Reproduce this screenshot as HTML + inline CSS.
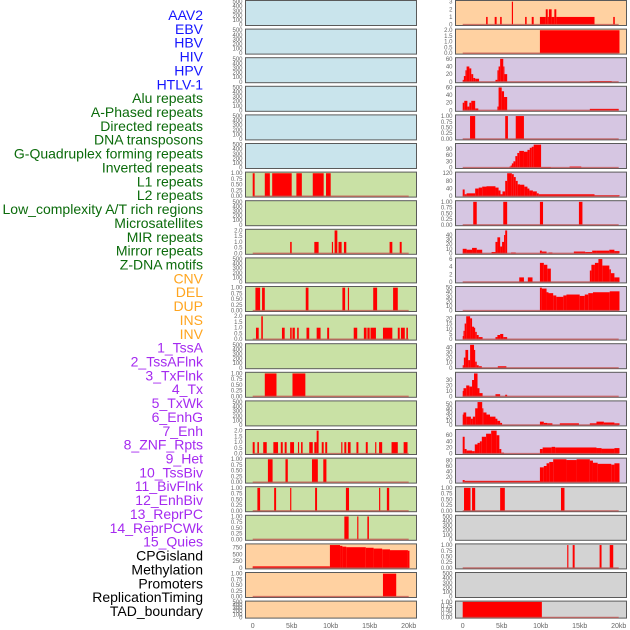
<!DOCTYPE html>
<html><head><meta charset="utf-8">
<style>
html,body{margin:0;padding:0;background:#fff;}
svg{display:block;}
text{font-family:"Liberation Sans",sans-serif;}
</style></head>
<body>
<svg id="chart" width="630" height="630" viewBox="0 0 630 630" xmlns="http://www.w3.org/2000/svg">
<g id="labels"></g>
<g id="panels"></g>
<g id="xaxes"></g>
</svg>
<script>
const trackLabels = ["AAV2","EBV","HBV","HIV","HPV","HTLV-1","Alu repeats","A-Phased repeats","Directed repeats","DNA transposons","G-Quadruplex forming repeats","Inverted repeats","L1 repeats","L2 repeats","Low_complexity A/T rich regions","Microsatellites","MIR repeats","Mirror repeats","Z-DNA motifs","CNV","DEL","DUP","INS","INV","1_TssA","2_TssAFlnk","3_TxFlnk","4_Tx","5_TxWk","6_EnhG","7_Enh","8_ZNF_Rpts","9_Het","10_TssBiv","11_BivFlnk","12_EnhBiv","13_ReprPC","14_ReprPCWk","15_Quies","CPGisland","Methylation","Promoters","ReplicationTiming","TAD_boundary"];
const labelColors = ["#1515ff","#1515ff","#1515ff","#1515ff","#1515ff","#1515ff","#0b6b0b","#0b6b0b","#0b6b0b","#0b6b0b","#0b6b0b","#0b6b0b","#0b6b0b","#0b6b0b","#0b6b0b","#0b6b0b","#0b6b0b","#0b6b0b","#0b6b0b","#ffa51f","#ffa51f","#ffa51f","#ffa51f","#ffa51f","#a52af0","#a52af0","#a52af0","#a52af0","#a52af0","#a52af0","#a52af0","#a52af0","#a52af0","#a52af0","#a52af0","#a52af0","#a52af0","#a52af0","#a52af0","#000","#000","#000","#000","#000"];
const xTickValues = [0,5,10,15,20];
const xTickLabels = ["0","5kb","10kb","15kb","20kb"];

const T01 = ["0.00","0.25","0.50","0.75","1.00"];
const T2 = ["0.0","0.5","1.0","1.5","2.0"];
const TE = ["0","100","200","300","400","500"];

// Left column backgrounds (rows 0..21)
const leftBg = ["b","b","b","b","b","b","g","g","g","g","g","g","g","g","g","g","g","g","g","o","o","o"];
const rightBg = ["o","o","p","p","p","p","p","p","p","p","p","p","p","p","p","p","p","y","y","y","y","y"];
const leftTicks = [TE,TE,TE,TE,TE,TE,T01,TE,T2,TE,T01,T2,TE,T01,TE,T2,T01,T01,T01,["0","250","500","750"],T01,TE];
const rightTicks = [["0","1","2","3"],T2,["0","20","40","60"],["0","20","40","60"],T01,["0","30","60","90"],["0","40","80","120"],T01,["0","10","20","30","40"],["0","2","4","6"],["0","10","20","30","40","50"],["0","5","10","15","20"],["0","10","20","30","40"],["0","10","20","30"],["0","10","20","30","40","50"],["0","20","40","60"],["0","20","40","60","80"],T01,TE,T01,TE,T01];

// segments: [startKb, endKb, value]
const L0=[],L1=[],L2=[],L3=[],L4=[],L5=[],L7=[],L9=[],L12=[],L14=[],L21=[];
const L6=[[0,0.25,1],[1.55,2.2,1],[2.5,5.0,1],[5.6,6.3,1],[7.7,9.1,1],[9.4,10.0,1]];
const L8=[[4.8,5.0,1],[7.9,8.45,1],[10.15,10.3,1],[10.5,10.85,2],[11.0,11.4,1],[11.7,12.0,1],[17.55,17.9,1],[18.85,19.1,1]];
const L10=[[0.35,0.95,1],[1.2,1.55,1],[6.8,7.15,1],[11.5,11.85,1],[12.2,12.35,1],[15.45,15.95,1],[18.0,18.6,1]];
const L11=[[0.42,0.77,1],[1.1,1.3,2],[3.75,4.1,1],[4.8,5.0,1],[5.1,5.4,1],[5.7,5.9,1],[6.9,7.25,1],[8.2,8.7,1],[9.55,9.8,1],[12.95,13.4,1],[14.25,14.6,1],[14.7,15.0,1],[15.1,15.8,1],[16.7,17.9,1],[18.6,18.85,1],[19.0,19.5,1],[19.7,19.9,1]];
const L13=[[1.55,3.05,1],[5.1,6.75,1]];
const L15=[[0,0.25,1],[0.6,0.8,1],[1.35,1.8,1],[2.65,3.25,1],[3.6,3.85,1],[4.1,4.35,1],[4.8,5.3,1],[5.8,5.95,1],[6.2,6.4,1],[7.25,7.7,1],[7.9,8.2,1],[8.2,8.45,2],[8.85,9.1,1],[9.3,9.55,1],[11.35,11.5,1],[11.75,12.0,1],[12.2,12.55,1],[13.3,13.55,1],[14.5,14.75,1],[15.7,15.85,1],[16.2,16.6,1],[17.8,18.6,1],[19.35,19.85,1]];
const L16=[[1.95,2.55,1],[4.2,4.5,1],[7.6,8.35,1],[9.05,9.45,1]];
const L17=[[0.6,0.95,1],[2.75,3.0,1],[4.8,4.95,1],[8.0,8.25,1],[11.95,12.35,1],[16.2,16.35,1],[17.2,17.5,1]];
const L18=[[11.75,12.3,1],[13.4,13.55,1],[14.7,14.9,1]];
const L19=[[0,9.9,60],[9.9,11.2,850],[11.2,11.5,820],[11.5,12.0,790],[12.0,14.5,770],[14.5,15.5,750],[15.5,16.6,720],[16.6,17.6,690],[17.6,19.9,660],[19.9,20.1,640]];
const L20=[[16.7,18.4,1]];

const R0=[[3.0,3.2,1],[4.1,4.35,1],[4.8,5.0,1],[6.3,6.45,3],[8.0,8.2,1],[8.85,9.1,1],[9.9,10.65,1],[10.65,10.9,2],[10.9,11.05,1],[11.05,11.4,2],[11.4,11.75,1],[11.75,12.0,2],[12.0,16.9,1],[19.3,19.5,1]];
const R1=[[9.9,20.1,2]];
const R2=[[0,0.15,5],[0.15,0.35,15],[0.35,0.5,30],[0.5,0.85,40],[0.85,1.1,35],[1.1,1.35,20],[1.35,1.6,10],[1.6,2.1,8],[4.2,4.45,5],[4.45,4.6,30],[4.6,4.8,40],[4.8,5.2,60],[5.2,5.35,40],[5.35,5.7,20],[16.3,19.1,2]];
const R3=[[0,0.2,20],[0.2,0.6,25],[0.6,0.85,10],[0.85,1.1,20],[1.1,1.6,25],[1.6,2.0,5],[4.45,4.6,10],[4.6,5.0,60],[5.0,5.3,50],[5.3,5.7,35],[16.3,20.0,4]];
const R4=[[0.94,1.6,1],[5.45,5.8,1],[6.8,7.85,1]];
const R5=[[6.0,6.15,5],[6.15,6.3,10],[6.3,6.5,20],[6.5,6.75,30],[6.75,7.0,55],[7.0,7.25,70],[7.25,7.85,80],[7.85,8.3,76],[8.3,8.6,85],[8.6,8.85,95],[8.85,9.1,100],[9.1,10.05,110],[10.05,11.3,3],[13.7,15.2,5]];
const R6=[[0,0.25,35],[0.25,0.5,10],[0.5,1.6,15],[1.6,2.05,40],[2.05,2.5,45],[2.5,3.05,50],[3.05,4.2,52],[4.2,4.6,45],[4.6,4.85,30],[4.85,5.1,10],[5.1,5.45,25],[5.45,5.7,80],[5.7,6.3,120],[6.3,6.55,115],[6.55,6.8,100],[6.8,7.05,80],[7.05,7.35,62],[7.35,7.9,60],[7.9,8.3,50],[8.3,8.55,40],[8.55,9.0,30],[9.0,9.5,25],[9.5,9.75,15],[9.75,16.9,10],[16.9,20.1,5]];
const R7=[[1.35,1.8,1],[5.2,5.7,1],[9.9,10.3,1],[14.9,15.35,1]];
const R8=[[0,0.5,10],[0.5,1.2,8],[1.2,1.8,12],[1.8,2.5,8],[3.7,4.2,3],[4.2,4.45,25],[4.45,4.8,35],[4.8,5.05,15],[5.05,5.3,25],[5.3,5.45,40],[5.45,5.7,50],[6.2,6.8,2],[9.9,10.15,6],[10.15,10.75,4],[11.0,11.5,2],[14.25,15.7,4],[15.7,16.6,3],[16.6,17.1,6],[17.1,18.8,6],[18.8,19.45,8],[19.45,20.1,5]];
const R9=[[7.25,7.85,1.2],[8.35,8.95,1.2],[9.9,10.4,5],[10.4,10.85,4.5],[10.85,11.3,3.5],[16.3,16.5,3],[16.5,16.95,4.5],[16.95,17.4,5],[17.4,17.9,6],[17.9,18.8,4.3],[18.8,19.0,3.3],[19.0,19.45,2.3],[19.45,20.1,1.2]];
const R10=[[9.9,10.15,50],[10.15,10.75,48],[10.75,11.0,40],[11.0,11.6,38],[11.6,12.0,33],[12.0,12.9,30],[12.9,13.3,33],[13.3,15.0,35],[15.0,15.65,32],[15.65,16.1,35],[16.1,16.7,38],[16.7,18.85,40],[18.85,20.1,42]];
const R11=[[0,0.1,3],[0.1,0.25,8],[0.25,0.45,15],[0.45,0.95,22],[0.95,1.2,20],[1.2,1.45,12],[1.45,1.6,11],[1.6,1.8,7],[1.8,2.05,4],[2.05,2.55,2],[4.2,4.45,2],[4.45,4.8,4],[4.8,5.2,5],[5.2,5.7,2]];
const R12=[[0,0.15,5],[0.15,0.35,20],[0.35,0.7,35],[0.7,0.95,15],[0.95,1.45,45],[1.45,1.6,35],[1.6,1.8,12],[1.8,2.05,5],[2.05,2.45,3],[4.5,5.6,3]];
const R13=[[0,0.1,10],[0.1,0.45,15],[0.45,0.85,20],[0.85,1.2,18],[1.2,1.45,30],[1.45,1.9,42],[1.9,2.15,15],[2.15,2.55,6],[4.2,4.8,4],[5.45,5.7,3]];
const R14=[[0,0.1,25],[0.1,0.45,30],[0.45,1.05,20],[1.05,1.3,15],[1.3,1.6,20],[1.6,1.9,40],[1.9,2.5,55],[2.5,2.65,40],[2.65,3.05,30],[3.05,3.5,25],[3.5,4.2,20],[4.2,4.45,15],[4.45,4.8,10],[4.8,5.05,5],[9.9,10.4,8],[10.4,10.85,5],[10.85,11.5,4],[12.45,14.9,4],[16.3,17.15,4],[17.15,18.1,8],[18.1,19.45,6],[19.45,20.1,4]];
const R15=[[0,0.25,55],[0.25,0.5,15],[0.5,1.2,10],[1.2,1.55,8],[1.55,1.9,30],[1.9,2.2,35],[2.2,2.45,40],[2.45,3.0,55],[3.0,3.65,65],[3.65,4.35,75],[4.35,4.7,60],[4.7,4.95,15],[4.95,5.3,3],[9.9,10.25,15],[10.25,11.4,20],[11.4,11.85,22],[11.85,17.15,20],[17.15,17.8,18],[17.8,19.45,16],[19.45,20.1,18]];
const R16=[[0,0.25,8],[0.25,9.9,5],[9.9,10.4,55],[10.4,10.75,60],[10.75,11.1,70],[11.1,11.6,75],[11.6,13.3,85],[13.3,14.6,82],[14.6,16.3,85],[16.3,16.7,80],[16.7,17.3,72],[17.3,19.05,68],[19.05,19.45,65],[19.45,20.1,70]];
const R17=[[0.17,1.0,1],[1.2,1.6,1],[4.8,5.4,1],[12.6,13.05,1]];
const R18=[],R20=[];
const R19=[[13.4,13.55,1],[14.1,14.35,1],[17.55,17.8,1],[18.85,19.3,1]];
const R21=[[0,10.15,1]];

const leftSegs=[L0,L1,L2,L3,L4,L5,L6,L7,L8,L9,L10,L11,L12,L13,L14,L15,L16,L17,L18,L19,L20,L21];
const rightSegs=[R0,R1,R2,R3,R4,R5,R6,R7,R8,R9,R10,R11,R12,R13,R14,R15,R16,R17,R18,R19,R20,R21];

const NS="http://www.w3.org/2000/svg";
const bgColors={b:"#c9e4ec",g:"#c9e1a5",o:"#ffd1a1",p:"#d6c6e2",y:"#d3d3d3"};
function mk(tag,attrs,parent){const e=document.createElementNS(NS,tag);for(const k in attrs)e.setAttribute(k,attrs[k]);parent.appendChild(e);return e;}

// labels
const lg=document.getElementById('labels');
trackLabels.forEach((t,i)=>{
  const el=mk('text',{x:203,y:15+i*13.86+5,'text-anchor':'end','font-size':'14',fill:labelColors[i]},lg);
  
  
  el.textContent=t;
});

const pg=document.getElementById('panels');
const colBoxX=[245.5,455.5], colX0=[252.7,462.7], KB=7.8, BOXW=171, PITCH=28.6;
function drawPanel(col,row,bg,ticks,segs){
  const top=0.5+row*PITCH;
  const h=(row===21)?17:25;
  const g=mk('g',{},pg);
  
  
  const bx=colBoxX[col];
  const box=mk('rect',{x:bx,y:top,width:BOXW,height:h,fill:bgColors[bg],stroke:'#5a5a5a','stroke-width':1},g);
  
  
  const tickVals=ticks.map(Number);
  let M=tickVals[tickVals.length-1];
  segs.forEach(s=>{if(s[2]>M)M=s[2];});
  const lo=-0.04*M, hi=1.05*M;
  const yOf=v=>top+h-(v-lo)/(hi-lo)*h;
  const xOf=kb=>colX0[col]+kb*KB;
  ticks.forEach((t,i)=>{
    const tt=mk('text',{x:bx-3,y:yOf(tickVals[i])+2,'text-anchor':'end','font-size':'6',fill:'#666'},g);
    
    
    tt.textContent=t;
  });
  if(segs.length){
    segs.forEach(s=>{
      const r=mk('rect',{x:xOf(s[0]),y:yOf(s[2]),width:Math.max(0.8,xOf(s[1])-xOf(s[0])),height:yOf(0)-yOf(s[2]),fill:'#ff0000'},g);
      
      
    });
    const bl=mk('line',{x1:xOf(0),x2:xOf(20),y1:yOf(0),y2:yOf(0),stroke:'#c0504d','stroke-width':1.4,'stroke-opacity':0.75},g);
    
    
  }
}
for(let r=0;r<22;r++){
  drawPanel(0,r,leftBg[r],leftTicks[r],leftSegs[r]);
  drawPanel(1,r,rightBg[r],rightTicks[r],rightSegs[r]);
}
const xg=document.getElementById('xaxes');
[0,1].forEach(c=>{
  xTickValues.forEach((v,i)=>{
    const t=mk('text',{x:colX0[c]+v*KB,y:628,'text-anchor':'middle','font-size':'7',fill:'#666'},xg);
    
    
    t.textContent=xTickLabels[i];
  });
});
</script>
</body></html>
